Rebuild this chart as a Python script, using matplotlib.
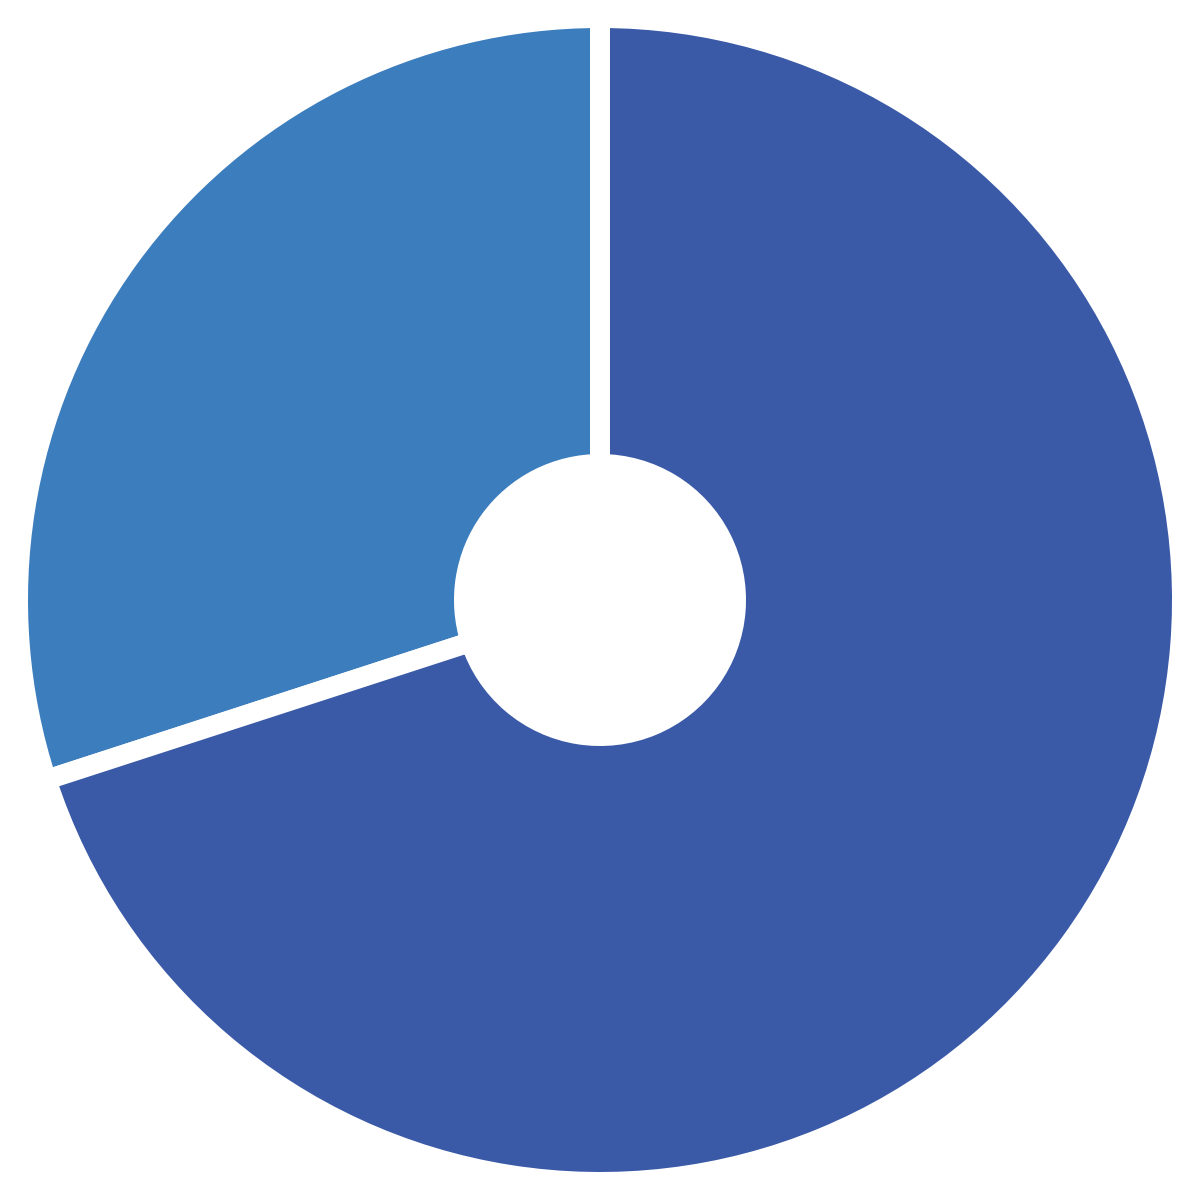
import matplotlib
matplotlib.use("Agg")
import matplotlib.pyplot as plt

labels = ["A", "B"]
values = [30, 70]
colors = ["#3B7DBD", "#3A5AA8"]

fig = plt.figure(figsize=(12, 12), dpi=100)
ax = fig.add_axes([0, 0, 1, 1])
gap_px = 20
lw_pt = gap_px * 72 / 100
outer = 572 + gap_px / 2
inner = 146 - gap_px / 2
ax.pie(values, colors=colors, startangle=90, counterclock=True,
       radius=outer,
       wedgeprops=dict(width=outer - inner, edgecolor="white", linewidth=lw_pt))
ax.set_xlim(-600, 600)
ax.set_ylim(-600, 600)
ax.set_aspect("equal")
ax.axis("off")
fig.savefig("out.png", dpi=100, facecolor="white")
